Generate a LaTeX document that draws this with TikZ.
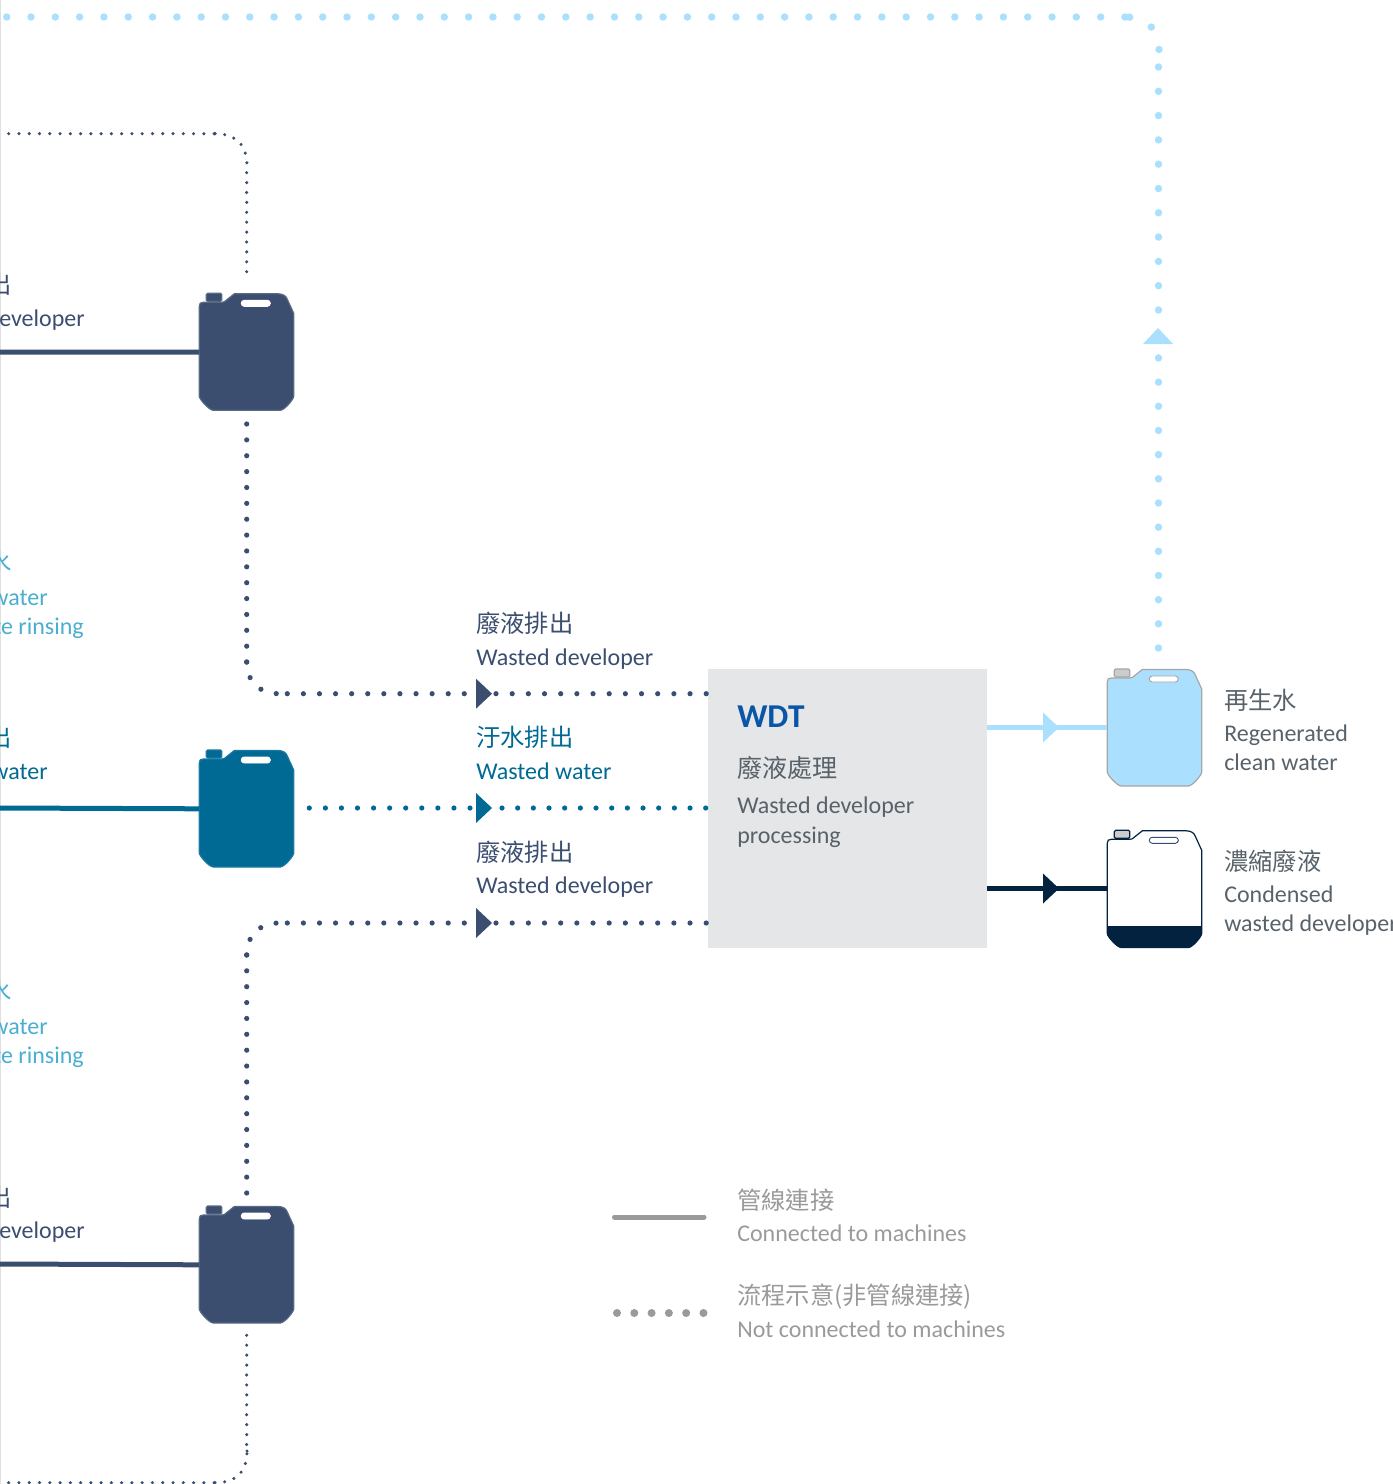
\documentclass[tikz,border=0pt]{standalone}
\usepackage{fontspec}
\setmainfont{Carlito}
\newfontfamily\cjk{Noto Sans CJK TC}
\usetikzlibrary{calc}
\definecolor{navy}{HTML}{3B4E70}
\definecolor{teal2}{HTML}{006A94}
\definecolor{sky}{HTML}{AAE0FD}
\definecolor{deep}{HTML}{03223F}
\definecolor{aqua}{HTML}{4AAED1}
\definecolor{boxgrey}{HTML}{E5E6E8}
\definecolor{greytxt}{HTML}{58626A}
\definecolor{legend}{HTML}{9A9A9A}
\definecolor{wdt}{HTML}{0A55A8}
\tikzset{
  x=0.75pt,y=-0.75pt,
  pipe/.style={line width=3.75pt},
  dotsS/.style={line cap=round,line width=2.6pt,dash pattern=on 0pt off #1*0.75pt},
  dotsM/.style={line cap=round,line width=3.9pt,dash pattern=on 0pt off #1*0.75pt},
  dotsL/.style={line cap=round,line width=5.6pt,dash pattern=on 0pt off #1*0.75pt},
  en/.style={anchor=base west,inner sep=0pt,font=\fontsize{18}{20}\selectfont},
  enr/.style={anchor=base east,inner sep=0pt,font=\fontsize{18}{20}\selectfont},
  zh/.style={anchor=west,inner sep=0pt,font=\fontsize{18.2}{20}\selectfont\cjk},
  zhb/.style={anchor=west,inner sep=0pt,font=\fontsize{18.8}{20}\selectfont\cjk},
  jugbox/.style={minimum width=70.8pt,minimum height=87.8pt,inner sep=0pt,anchor=north west},
}
% #1 name, #2 (x,y) top left, #3 fill, #4 stroke, #5 cap fill, #6 handle stroke
\newcommand{\jugshape}[6]{
  \node[jugbox] (#1) at (#2) {};
  \begin{scope}[shift={(#1.north west)}]
    \draw[fill=#5,draw=#4,line width=0.9pt,rounded corners=1pt] (7,0) rectangle (22.5,8);
    \draw[fill=#3,draw=#4,line width=0.9pt,line join=round]
      (0,13) .. controls (0,10) and (1,9) .. (4,9) -- (15,9) -- (22,9) -- (25,8.5) -- (35,0.5)
      -- (79,0.5) .. controls (84,0.5) and (87,3) .. (88,6) -- (94.4,20) -- (94.4,103)
      .. controls (94.4,106) and (85,117) .. (81,117) -- (14,117)
      .. controls (10,117) and (0,106) .. (0,103) -- cycle;
    \draw[fill=white,draw=#6,line width=0.7pt,rounded corners=2.2pt] (42,7) rectangle (71,13);
  \end{scope}
}
\newcommand{\triR}[3]{\fill[#3] (#1,#2-15) -- (#1+16,#2) -- (#1,#2+15) -- cycle;}
\begin{document}
\begin{tikzpicture}
\useasboundingbox (0,0) rectangle (1392,1484);
\clip (0,0) rectangle (1392,1484);
\draw[line width=0.8pt,draw=black!12] (0.5,0) -- (0.5,1484);

% jugs
\jugshape{jugA}{199.3,293.3}{navy}{navy!85}{navy}{white}
\jugshape{jugB}{199.3,750}{teal2}{teal2!90}{teal2}{white}
\jugshape{jugC}{199.3,1206}{navy}{navy!85}{navy}{white}
\jugshape{jugD}{1107.3,669}{sky}{black!35}{black!20}{black!35}
\jugshape{jugE}{1107.3,830.3}{white}{deep}{black!20}{navy}
\begin{scope}
  \fill[deep] (1107,926) -- (1201.9,926) -- (1201.9,934)
    .. controls (1201.9,937) and (1192.5,948) .. (1188.5,948) -- (1121,948)
    .. controls (1117,948) and (1107,937) .. (1107,934) -- cycle;
\end{scope}

% WDT box
\node[fill=boxgrey,minimum width=209.25pt,minimum height=209.25pt,inner sep=0pt,anchor=north west] (wdtbox) at (708,669) {};

% named free ends
\coordinate (lA) at (0,352);
\coordinate (lB) at (0,808);
\coordinate (lC) at (0,1264);
\draw[pipe,navy] (lA) -- (jugA.west);
\draw[pipe,teal2] (lB) -- (jugB.west);
\draw[pipe,navy] (lC) -- (jugC.west);
\draw[pipe,sky] (987,727.5) coordinate (oD) -- (oD -| jugD.west);
\draw[pipe,deep] (987,888.5) coordinate (oE) -- (oE -| jugE.west);
\triR{1043}{727.5}{sky}
\triR{1043}{888.5}{deep}

% small top dots
\coordinate (ta) at (8.7,133.7);
\coordinate (tb) at (215,133.7);
\coordinate (tc) at (247,166);
\coordinate (td) at (246.7,172.7);
\coordinate (te) at (246.7,281.5);
\draw[dotsS=10.27,navy] (ta) -- (tb);
\draw[dotsS=10.27,navy] (tb) -- (215.1,133.7);
\draw[dotsS=9.75,navy] (tb) .. controls (236,133.7) and (247,145) .. (tc);
\draw[dotsS=9.9,navy] (td) -- (te);
% small bottom dots
\coordinate (ba) at (8.7,1482.7);
\coordinate (bb) at (215,1482.7);
\coordinate (bc) at (247,1451);
\coordinate (bd) at (246.7,1444.5);
\coordinate (be) at (246.7,1335);
\draw[dotsS=10.27,navy] (ba) -- (bb);
\draw[dotsS=9.75,navy] (bb) .. controls (236,1482.7) and (247,1472) .. (bc);
\draw[dotsS=9.93,navy] (bd) -- (be);
\draw[dotsS=9.93,navy] (bc) -- (247.1,1451);

% upper medium line
\coordinate (ua) at (246.7,424);
\coordinate (ub) at (246.7,662);
\coordinate (uc) at (278.7,693.7);
\coordinate (ud) at (287.3,693.7);
\coordinate (ue) at (464.8,693.7);
\coordinate (uf) at (476,693.7);
\coordinate (ug) at (496,693.7);
\draw[dotsM=15.87,navy] (ua) -- (246.7,662.5);
\draw[dotsM=16.1,navy] (ub) .. controls (246.7,680) and (258,693.7) .. (279,693.7);
\draw[dotsM=16.09,navy] (ud) -- (ue);
\triR{476}{693.7}{navy}
\draw[dotsM=16.17,navy] (ug) -- (wdtbox.west |- ug);
% middle line
\coordinate (ma) at (309.3,808);
\coordinate (mg) at (502,808);
\draw[dotsM=16.07,teal2] (ma) -- (471,808);
\triR{476}{808}{teal2}
\draw[dotsM=15.67,teal2] (mg) -- (wdtbox.west |- mg);
% lower medium line
\coordinate (la) at (246.7,1193);
\coordinate (lb) at (246.7,955);
\coordinate (lc) at (278.7,923);
\coordinate (ld) at (287.3,923);
\coordinate (lg) at (496,923);
\draw[dotsM=15.87,navy] (la) -- (246.7,954.5);
\draw[dotsM=16.1,navy] (lb) .. controls (246.7,937) and (258,923) .. (279,923);
\draw[dotsM=16.09,navy] (ld) -- (464.8,923);
\triR{476}{923}{navy}
\draw[dotsM=16.17,navy] (lg) -- (wdtbox.west |- lg);

% light blue return line
\coordinate (sa) at (1158.5,648);
\coordinate (sb) at (1158.5,358);
\coordinate (sc) at (1158.5,310);
\coordinate (sd) at (1158.5,67);
\coordinate (se) at (1159,49.5);
\coordinate (sf) at (1125,17);
\coordinate (sg) at (6.7,17);
\draw[dotsL=24.17,sky] (sa) -- (sb |- 0,357.5);
\fill[sky] (1143,344) -- (1158,328) -- (1173,344) -- cycle;
\draw[dotsL=24.3,sky] (sc) -- (1158.5,66.5);
\draw[dotsL=24.3,sky] (se) .. controls (1159,30) and (1147,17) .. (sf);
\draw[dotsL=24.31,sky] (sg) -- (1125.2,17);

% legend
\coordinate (kA) at (614.5,1217);
\coordinate (kB) at (704,1217);
\coordinate (kC) at (617,1313);
\coordinate (kD) at (704,1313);
\draw[pipe,legend,line cap=round] (kA) -- (kB);
\draw[line cap=round,line width=6pt,dash pattern=on 0pt off 12.97pt,legend] (kC) -- (kD);

% labels, mid
\node[zh,text=navy] (t1) at (476,623) {廢液排出};
\node[en,text=navy] (t2) at (476,665) {Wasted developer};
\node[zh,text=teal2] (t3) at (476,737) {汙水排出};
\node[en,text=teal2] (t4) at (476,779) {Wasted water};
\node[zh,text=navy] (t5) at (476,852) {廢液排出};
\node[en,text=navy] (t6) at (476,893) {Wasted developer};
% WDT
\node[anchor=base west,inner sep=0pt,text=wdt,font=\fontsize{25}{28}\selectfont\bfseries] (w1) at (737,727) {WDT};
\node[zhb,text=greytxt] (w2) at (737,768) {廢液處理};
\node[en,text=greytxt] (w3) at (737,813) {Wasted developer};
\node[en,text=greytxt] (w4) at (737,843) {processing};
% right
\node[zh,text=greytxt] (r1) at (1224,700) {再生水};
\node[en,text=greytxt] (r2) at (1224,741) {Regenerated};
\node[en,text=greytxt] (r3) at (1224,770) {clean water};
\node[zh,text=greytxt] (r4) at (1224,861) {濃縮廢液};
\node[en,text=greytxt] (r5) at (1224,902) {Condensed};
\node[en,text=greytxt] (r6) at (1224,931) {wasted developer};
% legend text
\node[zh,text=legend] (k1) at (737,1200) {管線連接};
\node[en,text=legend] (k2) at (737,1241) {Connected to machines};
\node[zh,text=legend] (k3) at (737,1297) {流程示意(非管線連接)};
\node[en,text=legend] (k4) at (737,1337) {Not connected to machines};
% left, cut by the page edge
\node[zh,anchor=east,text=navy] (a1) at (12,284) {出};
\node[enr,text=navy] (a2) at (85,326) {developer};
\node[zh,anchor=east,text=aqua] (a3) at (12,562) {水};
\node[enr,text=aqua] (a4) at (48,605) {water};
\node[enr,text=aqua] (a5) at (84,634) {te rinsing};
\node[zh,anchor=east,text=teal2] (a6) at (12,737) {出};
\node[enr,text=teal2] (a7) at (48,779) {water};
\node[zh,anchor=east,text=aqua] (a8) at (12,991) {水};
\node[enr,text=aqua] (a9) at (48,1034) {water};
\node[enr,text=aqua] (a10) at (84,1063) {te rinsing};
\node[zh,anchor=east,text=navy] (a11) at (12,1197) {出};
\node[enr,text=navy] (a12) at (85,1238) {developer};
\end{tikzpicture}
\end{document}
